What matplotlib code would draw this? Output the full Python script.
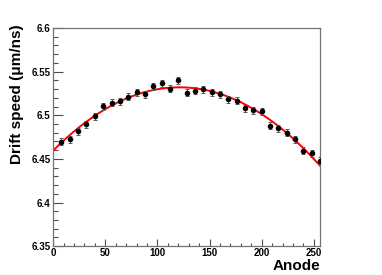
import matplotlib
matplotlib.use("Agg")
import matplotlib.pyplot as plt
from matplotlib.ticker import MultipleLocator
import numpy as np

# Data
anode = [8, 16, 24, 32, 40, 48, 56, 64, 72, 80, 88, 96, 104, 112, 120, 128,
         136, 144, 152, 160, 168, 176, 184, 192, 200, 208, 216, 224, 232, 240, 248, 256]
speed = [6.4696, 6.4723, 6.4819, 6.4899, 6.4991, 6.5105, 6.5143, 6.5159,
         6.5212, 6.5266, 6.5243, 6.5335, 6.5366, 6.5304, 6.5404, 6.5258,
         6.5283, 6.5297, 6.5266, 6.5243, 6.5182, 6.5166, 6.5082, 6.5059,
         6.5044, 6.4880, 6.4853, 6.4800, 6.4723, 6.4593, 6.4563, 6.4476]
speed_err = [0.004] * len(anode)

x_range = (0, 256)
y_range = (6.35, 6.6)
y_ticks = [6.35, 6.4, 6.45, 6.5, 6.55, 6.6]
y_ticklabels = ["6.35", "6.4", "6.45", "6.5", "6.55", "6.6"]

plt.rcParams['font.family'] = ['Liberation Sans', 'DejaVu Sans']
plt.rcParams['font.weight'] = 'bold'

fig = plt.figure(figsize=(3.82, 2.75), dpi=100)
ax = fig.add_axes([0.139, 0.105, 0.699, 0.793])

# pol2 fit like in ROOT
coef = np.polyfit(anode, speed, 2)
xf = np.linspace(x_range[0], x_range[1], 200)
ax.plot(xf, np.polyval(coef, xf), color='red', lw=1.4, zorder=2)

ax.errorbar(anode, speed, yerr=speed_err, fmt='o', color='black', ms=3,
            ecolor='0.35', elinewidth=0.7, capsize=1.3, capthick=0.7, zorder=3)

ax.set_xlim(*x_range)
ax.set_ylim(*y_range)
ax.set_yticks(y_ticks)
ax.set_yticklabels(y_ticklabels)
ax.xaxis.set_major_locator(MultipleLocator(50))
ax.xaxis.set_minor_locator(MultipleLocator(10))
ax.yaxis.set_minor_locator(MultipleLocator(0.01))

ax.tick_params(axis='both', which='both', direction='in', colors='0.3',
               labelcolor='black', labelsize=7, top=False, right=False)
ax.tick_params(axis='y', which='major', length=7, width=0.8, pad=2)
ax.tick_params(axis='y', which='minor', length=3.5, width=0.8)
ax.tick_params(axis='x', which='major', length=5, width=0.8, pad=1)
ax.tick_params(axis='x', which='minor', length=2.5, width=0.8)
for s in ax.spines.values():
    s.set_color('0.45')
    s.set_linewidth(0.9)

ax.set_ylabel("Drift speed (\u03bcm/ns)", fontsize=11, fontweight='bold',
              ha='right', va='center')
ax.yaxis.set_label_coords(-0.135, 1.015)
ax.set_xlabel("Anode", fontsize=11, fontweight='bold', ha='right', va='top')
ax.xaxis.set_label_coords(1.0, -0.06)

fig.savefig("out.png", dpi=100)
